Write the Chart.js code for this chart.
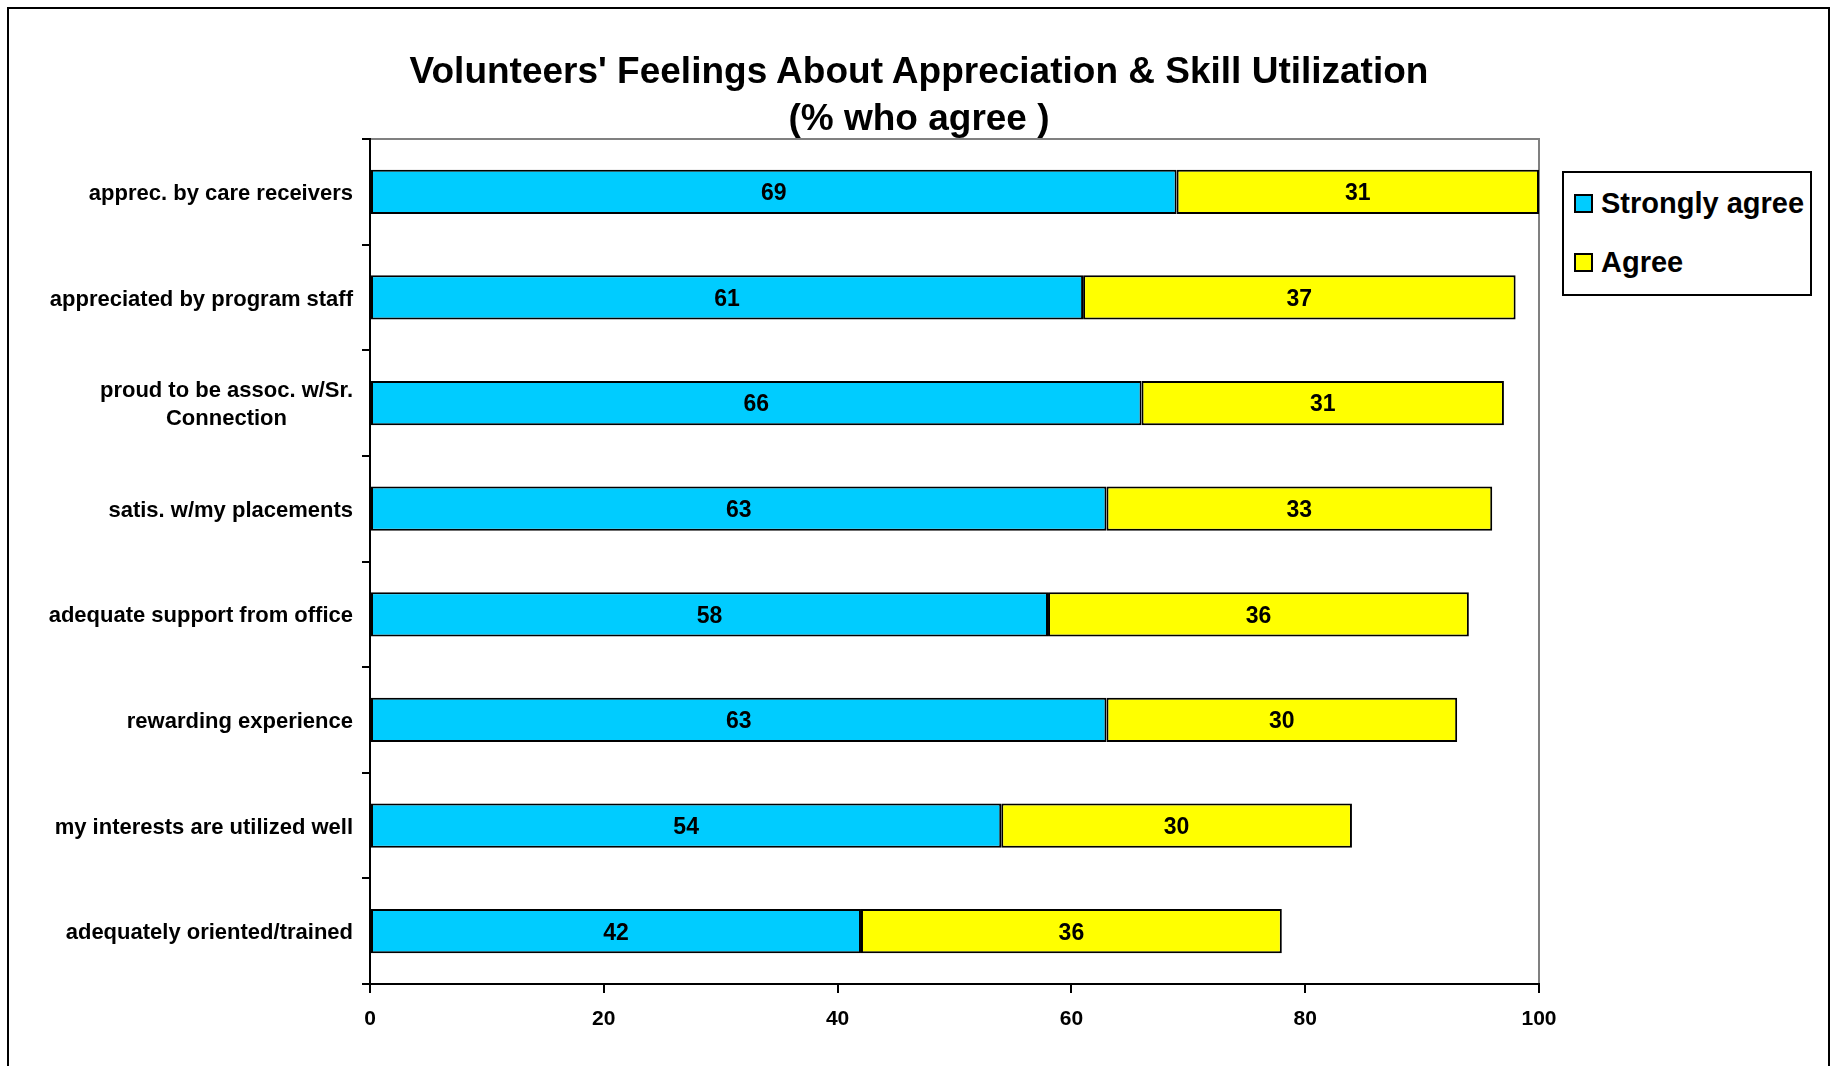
<!DOCTYPE html>
<html>
<head>
<meta charset="utf-8">
<script src="https://cdn.jsdelivr.net/npm/chart.js@4.4.0/dist/chart.umd.min.js"></script>
<style>
  html, body { margin: 0; padding: 0; background: #fff; overflow: hidden; }
  body { width: 1836px; height: 1066px; position: relative; font-family: "Liberation Sans", Arial, sans-serif; }
  #frame { position: absolute; left: 7px; top: 7px; width: 1819px; height: 1120px; border: 2px solid #000; }
  #chart { position: absolute; left: 0; top: 0; }
  #title { position: absolute; left: 219px; width: 1400px; top: 47px; text-align: center; white-space: nowrap; font-weight: bold; font-size: 37px; line-height: 47px; color: #000; }
  #legend { position: absolute; left: 1562px; top: 171px; width: 250px; height: 125px; border: 2px solid #000; background: #fff; box-sizing: border-box; }
  .item { position: absolute; left: 10px; display: flex; align-items: center; font-weight: bold; font-size: 29px; }
  .swatch { width: 15px; height: 15px; border: 2px solid #000; margin-right: 8px; }
</style>
</head>
<body>
<div id="frame"></div>
<canvas id="chart" width="1836" height="1066"></canvas>
<div id="title"></div>
<div id="legend"></div>
<script>
const categories = [
  'apprec. by care receivers',
  'appreciated by program staff',
  ['proud to be assoc. w/Sr.', 'Connection'],
  'satis. w/my placements',
  'adequate support from office',
  'rewarding experience',
  'my interests are utilized well',
  'adequately oriented/trained',
];
const stronglyAgree = [69, 61, 66, 63, 58, 63, 54, 42];
const agree = [31, 37, 31, 33, 36, 30, 30, 36];
const seriesNames = ['Strongly agree', 'Agree'];
const seriesColors = ['#00CCFF', '#FFFF00'];
const xTicks = [0, 20, 40, 60, 80, 100];
const titleLines = ["Volunteers' Feelings About Appreciation & Skill Utilization", '(% who agree )'];

const FONT = '"Liberation Sans", Arial, sans-serif';

// grey box around plot area (axes draw black on top of it)
const plotFrame = {
  id: 'plotFrame',
  beforeDraw(chart) {
    const { ctx, chartArea: a } = chart;
    ctx.save();
    ctx.strokeStyle = '#808080';
    ctx.lineWidth = 2;
    ctx.strokeRect(a.left, a.top, a.right - a.left, a.bottom - a.top);
    ctx.restore();
  },
};

// value labels centred in each bar segment
const barValues = {
  id: 'barValues',
  afterDatasetsDraw(chart) {
    const { ctx } = chart;
    ctx.save();
    ctx.font = `bold 23px ${FONT}`;
    ctx.fillStyle = '#000';
    ctx.textAlign = 'center';
    ctx.textBaseline = 'middle';
    chart.data.datasets.forEach((ds, i) => {
      chart.getDatasetMeta(i).data.forEach((bar, j) => {
        const { x, base, y } = bar.getProps(['x', 'base', 'y'], true);
        ctx.fillText(ds.data[j], (x + base) / 2, y + 2);
      });
    });
    ctx.restore();
  },
};

// category labels, multi-line ones centred as a block
const catLabels = {
  id: 'catLabels',
  afterDraw(chart) {
    const { ctx } = chart;
    const yScale = chart.scales.y;
    const right = 353;
    ctx.save();
    ctx.font = `bold 22px ${FONT}`;
    ctx.fillStyle = '#000';
    ctx.textAlign = 'center';
    ctx.textBaseline = 'middle';
    categories.forEach((label, i) => {
      const lines = Array.isArray(label) ? label : [label];
      const w = Math.max(...lines.map((l) => ctx.measureText(l).width));
      const cx = right - w / 2;
      const cy = yScale.getPixelForValue(i) + 2;
      const lh = 28;
      lines.forEach((l, k) => {
        ctx.fillText(l, cx, cy + (k - (lines.length - 1) / 2) * lh);
      });
    });
    ctx.restore();
  },
};

new Chart(document.getElementById('chart'), {
  type: 'bar',
  data: {
    labels: categories,
    datasets: [
      { label: seriesNames[0], data: stronglyAgree, backgroundColor: seriesColors[0] },
      { label: seriesNames[1], data: agree, backgroundColor: seriesColors[1] },
    ].map((d) => ({
      ...d,
      borderColor: '#000',
      borderWidth: 2,
      borderSkipped: false,
      categoryPercentage: 0.42,
      barPercentage: 1,
    })),
  },
  options: {
    indexAxis: 'y',
    responsive: false,
    animation: false,
    devicePixelRatio: 1,
    layout: { padding: { left: 0, right: 297, top: 139, bottom: 0 } },
    scales: {
      x: {
        stacked: true,
        min: 0,
        max: 100,
        afterBuildTicks: (scale) => { scale.ticks = xTicks.map((v) => ({ value: v })); },
        afterFit: (scale) => { scale.height = 82; },
        border: { color: '#000', width: 2 },
        grid: { drawOnChartArea: false, color: '#000', lineWidth: 2, tickLength: 9 },
        ticks: { color: '#000', font: { family: FONT, size: 21, weight: 'bold' }, padding: 14, maxRotation: 0 },
      },
      y: {
        stacked: true,
        afterFit: (scale) => { scale.width = 370; },
        border: { color: '#000', width: 2 },
        grid: { drawOnChartArea: false, color: '#000', lineWidth: 2, tickLength: 8, offset: true },
        ticks: { display: false },
      },
    },
    plugins: {
      legend: { display: false },
      tooltip: { enabled: false },
      title: { display: false },
    },
  },
  plugins: [plotFrame, barValues, catLabels],
});

// title
document.getElementById('title').innerHTML = titleLines
  .map((t) => t.replace(/&/g, '&amp;'))
  .join('<br>');

// legend box
const legendEl = document.getElementById('legend');
seriesNames.forEach((name, i) => {
  const item = document.createElement('div');
  item.className = 'item';
  item.style.top = (i === 0 ? 14 : 73) + 'px';
  const sw = document.createElement('span');
  sw.className = 'swatch';
  sw.style.background = seriesColors[i];
  const txt = document.createElement('span');
  txt.textContent = name;
  item.appendChild(sw);
  item.appendChild(txt);
  legendEl.appendChild(item);
});
</script>
</body>
</html>
